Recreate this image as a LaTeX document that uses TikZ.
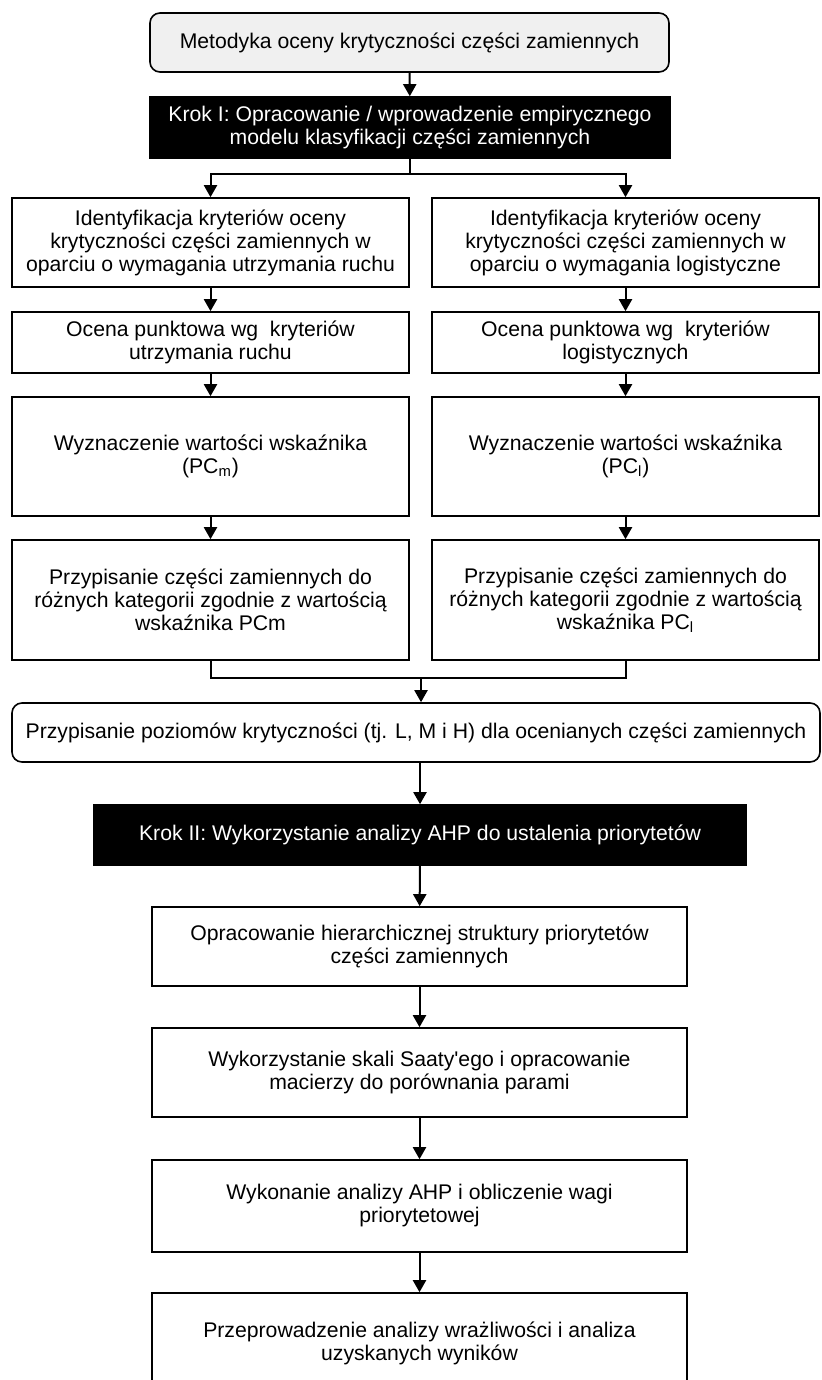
\documentclass[tikz,border=0pt]{standalone}
\usepackage{fontspec}
\setmainfont{Liberation Sans}
\usepackage{tikz}
\usetikzlibrary{arrows.meta, positioning, calc}

\begin{document}
\begin{tikzpicture}[
    x=0.5pt, y=-0.5pt,
    font=\fontsize{10.6}{11.5}\selectfont,
    block/.style={rectangle, draw, line width=0.8pt, align=center, inner sep=2pt},
    roundblock/.style={block, rounded corners=5pt},
    darkblock/.style={block, fill=black, text=white},
    arrow/.style={-{Triangle[length=6pt, width=6.5pt]}, line width=1pt},
    link/.style={line width=1pt}
]
    \useasboundingbox (0,0) rectangle (821,1380);

    % Start
    \node[roundblock, fill=black!6, minimum width=259.5pt, minimum height=29.5pt] (meth) at (409.5,42.5)
        {Metodyka oceny krytyczności części zamiennych};

    % Krok I
    \node[darkblock, minimum width=260pt, minimum height=30.5pt] (krok1) at (410,127.5)
        {Krok I: Opracowanie / wprowadzenie empirycznego\\modelu klasyfikacji części zamiennych};

    % Left column: maintenance
    \node[block, minimum width=198.5pt, minimum height=44.5pt] (identM) at (210.5,242.5)
        {Identyfikacja kryteriów oceny\\krytyczności części zamiennych w\\oparciu o wymagania utrzymania ruchu};
    \node[block, minimum width=198.5pt, minimum height=30.5pt] (ocenaM) at (210.5,342.5)
        {Ocena punktowa wg\ \ kryteriów\\utrzymania ruchu};
    \node[block, minimum width=198.5pt, minimum height=59.5pt] (wyznM) at (210.5,456.5)
        {Wyznaczenie wartości wskaźnika\\(PC\textsubscript{m})};
    \node[block, minimum width=198.5pt, minimum height=60pt] (przypM) at (210.5,600)
        {Przypisanie części zamiennych do\\różnych kategorii zgodnie z wartością\\wskaźnika PCm};

    % Right column: logistics
    \node[block, minimum width=193.5pt, minimum height=44.5pt] (identL) at (625.5,242.5)
        {Identyfikacja kryteriów oceny\\krytyczności części zamiennych w\\oparciu o wymagania logistyczne};
    \node[block, minimum width=193.5pt, minimum height=30.5pt] (ocenaL) at (625.5,342.5)
        {Ocena punktowa wg\ \ kryteriów\\logistycznych};
    \node[block, minimum width=193.5pt, minimum height=59.5pt] (wyznL) at (625.5,456.5)
        {Wyznaczenie wartości wskaźnika\\(PC\textsubscript{l})};
    \node[block, minimum width=193.5pt, minimum height=60pt] (przypL) at (625.5,600)
        {Przypisanie części zamiennych do\\różnych kategorii zgodnie z wartością\\wskaźnika PC\textsubscript{l}};

    % Criticality levels
    \node[roundblock, minimum width=404pt, minimum height=29.5pt] (crit) at (416,732.5)
        {Przypisanie poziomów krytyczności (tj. L, M i H) dla ocenianych części zamiennych};

    % Krok II
    \node[darkblock, minimum width=326pt, minimum height=30pt] (krok2) at (420,835)
        {Krok II: Wykorzystanie analizy AHP do ustalenia priorytetów};

    % AHP steps
    \node[block, minimum width=267.5pt, minimum height=39.5pt] (opr) at (419.5,946.5)
        {Opracowanie hierarchicznej struktury priorytetów\\części zamiennych};
    \node[block, minimum width=267.5pt, minimum height=44.5pt] (wyk) at (419.5,1072.5)
        {Wykorzystanie skali Saaty\textquotesingle ego i opracowanie\\macierzy do porównania parami};
    \node[block, minimum width=267.5pt, minimum height=46pt] (wykon) at (419.5,1206)
        {Wykonanie analizy AHP i obliczenie wagi\\priorytetowej};
    \node[block, minimum width=267.5pt, minimum height=50pt] (przep) at (419.5,1343)
        {Przeprowadzenie analizy wrażliwości i analiza\\uzyskanych wyników};

    % Split and merge points
    \coordinate (split) at (410,174);
    \coordinate (merge) at (421,678);

    % Arrows
    \draw[arrow] (meth) -- (krok1);
    \draw[link] (krok1) -- (split);
    \draw[arrow] (split) -| (identM.north);
    \draw[arrow] (split) -| (identL.north);

    \draw[arrow] (identM) -- (ocenaM);
    \draw[arrow] (ocenaM) -- (wyznM);
    \draw[arrow] (wyznM) -- (przypM);
    \draw[arrow] (identL) -- (ocenaL);
    \draw[arrow] (ocenaL) -- (wyznL);
    \draw[arrow] (wyznL) -- (przypL);

    \draw[link] (przypM.south) |- (merge);
    \draw[link] (przypL.south) |- (merge);
    \draw[arrow] (merge) -- (merge |- crit.north);

    \draw[arrow] (crit.south -| krok2.north) -- (krok2.north);
    \draw[arrow] (krok2) -- (opr);
    \draw[arrow] (opr) -- (wyk);
    \draw[arrow] (wyk) -- (wykon);
    \draw[arrow] (wykon) -- (przep);

\end{tikzpicture}
\end{document}
